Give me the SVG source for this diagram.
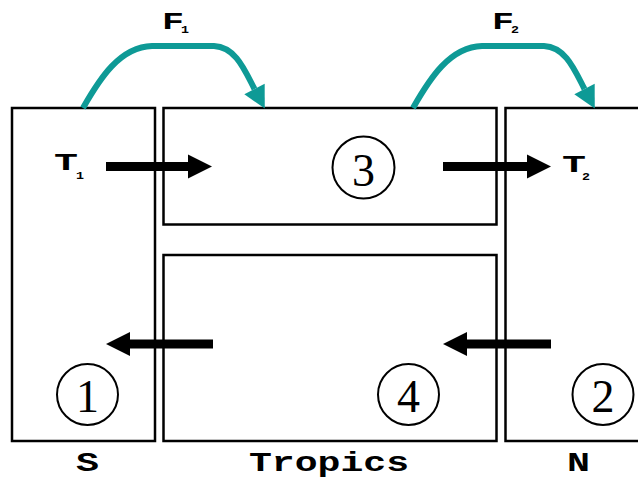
<svg xmlns="http://www.w3.org/2000/svg" width="638" height="481" viewBox="0 0 638 481">
<style>
.box{fill:none;stroke:#000;stroke-width:2.5}
.circ{fill:none;stroke:#000;stroke-width:2}
.num{font-family:"Liberation Serif","Times New Roman",serif;font-size:46px;text-anchor:middle;fill:#000}
.lbl{font-family:"Liberation Mono","Courier New",monospace;font-weight:bold;fill:#000}
.shaft{stroke:#000;stroke-width:9;fill:none;marker-end:url(#ah)}
.flux{stroke:#0e9a96;stroke-width:6;fill:none;marker-end:url(#th)}
</style>
<defs>
<marker id="ah" markerUnits="userSpaceOnUse" markerWidth="26" markerHeight="26" refX="0" refY="12" orient="auto" overflow="visible">
<path d="M0,0 L24,12 L0,24 z" fill="#000"/>
</marker>
<marker id="th" markerUnits="userSpaceOnUse" markerWidth="24" markerHeight="24" refX="0" refY="11.5" orient="auto" overflow="visible">
<path d="M0,0 L22,11.5 L0,23 z" fill="#0e9a96"/>
</marker>
</defs>
<g id="S">
<rect class="box" x="12" y="108" width="143" height="333"/>
<circle class="circ" cx="87.5" cy="394.5" r="30.5"/>
<text class="num" x="87.5" y="412">1</text>
<text class="lbl" x="76" y="471" font-size="28" textLength="23" lengthAdjust="spacingAndGlyphs">S</text>
<text class="lbl" x="54" y="170" font-size="24" textLength="24" lengthAdjust="spacingAndGlyphs">T</text>
<text class="lbl" x="76" y="179" font-size="11" textLength="8" lengthAdjust="spacingAndGlyphs">1</text>
</g>
<g id="tropics-upper">
<rect class="box" x="163.5" y="108" width="333" height="116.5"/>
<circle class="circ" cx="363.5" cy="167.5" r="31"/>
<text class="num" x="363.5" y="186">3</text>
</g>
<g id="tropics-lower">
<rect class="box" x="163.5" y="255" width="333" height="186"/>
<circle class="circ" cx="408.5" cy="394.5" r="30.5"/>
<text class="num" x="408.5" y="412">4</text>
<text class="lbl" x="249" y="471" font-size="28" textLength="160" lengthAdjust="spacingAndGlyphs">Tropics</text>
</g>
<g id="N">
<rect class="box" x="505.5" y="108" width="200" height="333"/>
<circle class="circ" cx="603" cy="394.5" r="30.5"/>
<text class="num" x="603" y="412">2</text>
<text class="lbl" x="567" y="471" font-size="28" textLength="23" lengthAdjust="spacingAndGlyphs">N</text>
<text class="lbl" x="562" y="172" font-size="24" textLength="24" lengthAdjust="spacingAndGlyphs">T</text>
<text class="lbl" x="582" y="180" font-size="11" textLength="8" lengthAdjust="spacingAndGlyphs">2</text>
</g>
<g id="connectors">
<line class="shaft" x1="106" y1="166.5" x2="188" y2="166.5"/>
<line class="shaft" x1="443" y1="166.5" x2="527" y2="166.5"/>
<line class="shaft" x1="213" y1="344" x2="130" y2="344"/>
<line class="shaft" x1="551" y1="344" x2="467" y2="344"/>
<path class="flux" d="M83,108 C100,78 120,47 152,46 L214,46 C236,47 245,71 254.5,89"/>
<path class="flux" d="M413,108 C430,78 450,47 482,46 L544,46 C566,47 575,71 584.5,89"/>
<text class="lbl" x="162" y="29" font-size="23" textLength="22" lengthAdjust="spacingAndGlyphs">F</text>
<text class="lbl" x="181" y="33" font-size="10" textLength="8" lengthAdjust="spacingAndGlyphs">1</text>
<text class="lbl" x="492" y="29" font-size="23" textLength="22" lengthAdjust="spacingAndGlyphs">F</text>
<text class="lbl" x="511" y="33" font-size="10" textLength="8" lengthAdjust="spacingAndGlyphs">2</text>
</g>
</svg>
